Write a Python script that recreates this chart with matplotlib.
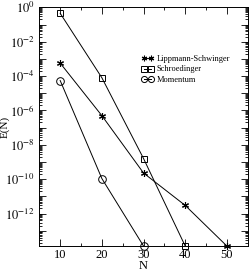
import math

import matplotlib
matplotlib.use('Agg')
import matplotlib.pyplot as plt
from matplotlib.ticker import LogLocator, FixedLocator, NullFormatter, FuncFormatter

plt.rcParams['font.family'] = ['Liberation Serif', 'DejaVu Serif']
plt.rcParams['mathtext.fontset'] = 'stix'

YMIN = 1.3e-14

N_ls = [10, 20, 30, 40, 50]
E_ls = [5.7e-4, 5e-7, 2.3e-10, 3e-12, YMIN]
N_sch = [10, 20, 30, 40]
E_sch = [0.45, 8e-5, 1.6e-9, YMIN]
N_mom = [10, 20, 30]
E_mom = [5.5e-5, 1.1e-10, YMIN]

fig = plt.figure(figsize=(2.49, 2.71), dpi=100)
ax = fig.add_axes([0.158, 0.092, 0.837, 0.881])

ax.plot(N_ls, E_ls, color='black', lw=0.7, marker=(6, 2, 0), ms=5, mew=0.8,
        label='Lippmann-Schwinger', clip_on=False)
ax.plot(N_sch, E_sch, color='black', lw=0.7, marker='s', ms=5, mfc='none', mew=0.7,
        label='Schroedinger', clip_on=False)
ax.plot(N_mom, E_mom, color='black', lw=0.7, marker='o', ms=5.5, mfc='none', mew=0.7,
        label='Momentum', clip_on=False)

ax.set_yscale('log')
ax.set_xlim(5, 55)
ax.set_ylim(YMIN, 1)
ax.xaxis.set_major_locator(FixedLocator([10, 20, 30, 40, 50]))
ax.xaxis.set_minor_locator(FixedLocator([15, 25, 35, 45]))
ax.yaxis.set_major_locator(FixedLocator([10.0 ** -k for k in range(0, 14)]))
ax.yaxis.set_minor_locator(LogLocator(base=10, subs=range(2, 10), numticks=30))
ax.yaxis.set_minor_formatter(NullFormatter())


def ylab(v, pos):
    k = int(round(-math.log10(v)))
    if k % 2:
        return ''
    return r'$10^{%d}$' % (-k) if k else r'$10^{0}$'


ax.yaxis.set_major_formatter(FuncFormatter(ylab))
ax.tick_params(which='both', direction='in', top=True, right=True, labelsize=9, width=0.6)
ax.tick_params(which='major', length=5)
ax.tick_params(which='minor', length=2.5)
ax.tick_params(axis='x', pad=2)
for s in ax.spines.values():
    s.set_linewidth(0.7)

ax.set_xlabel('N', fontsize=9)
ax.xaxis.set_label_coords(0.5, -0.058)
ax.set_ylabel('E(N)', fontsize=8)
ax.yaxis.set_label_coords(-0.14, 0.5)

ax.legend(loc='upper right', bbox_to_anchor=(0.95, 0.83), frameon=False, fontsize=6,
          numpoints=2, handlelength=1.5, handletextpad=0.3, labelspacing=0.25,
          markerscale=0.8)

fig.savefig('out.png', dpi=100)
